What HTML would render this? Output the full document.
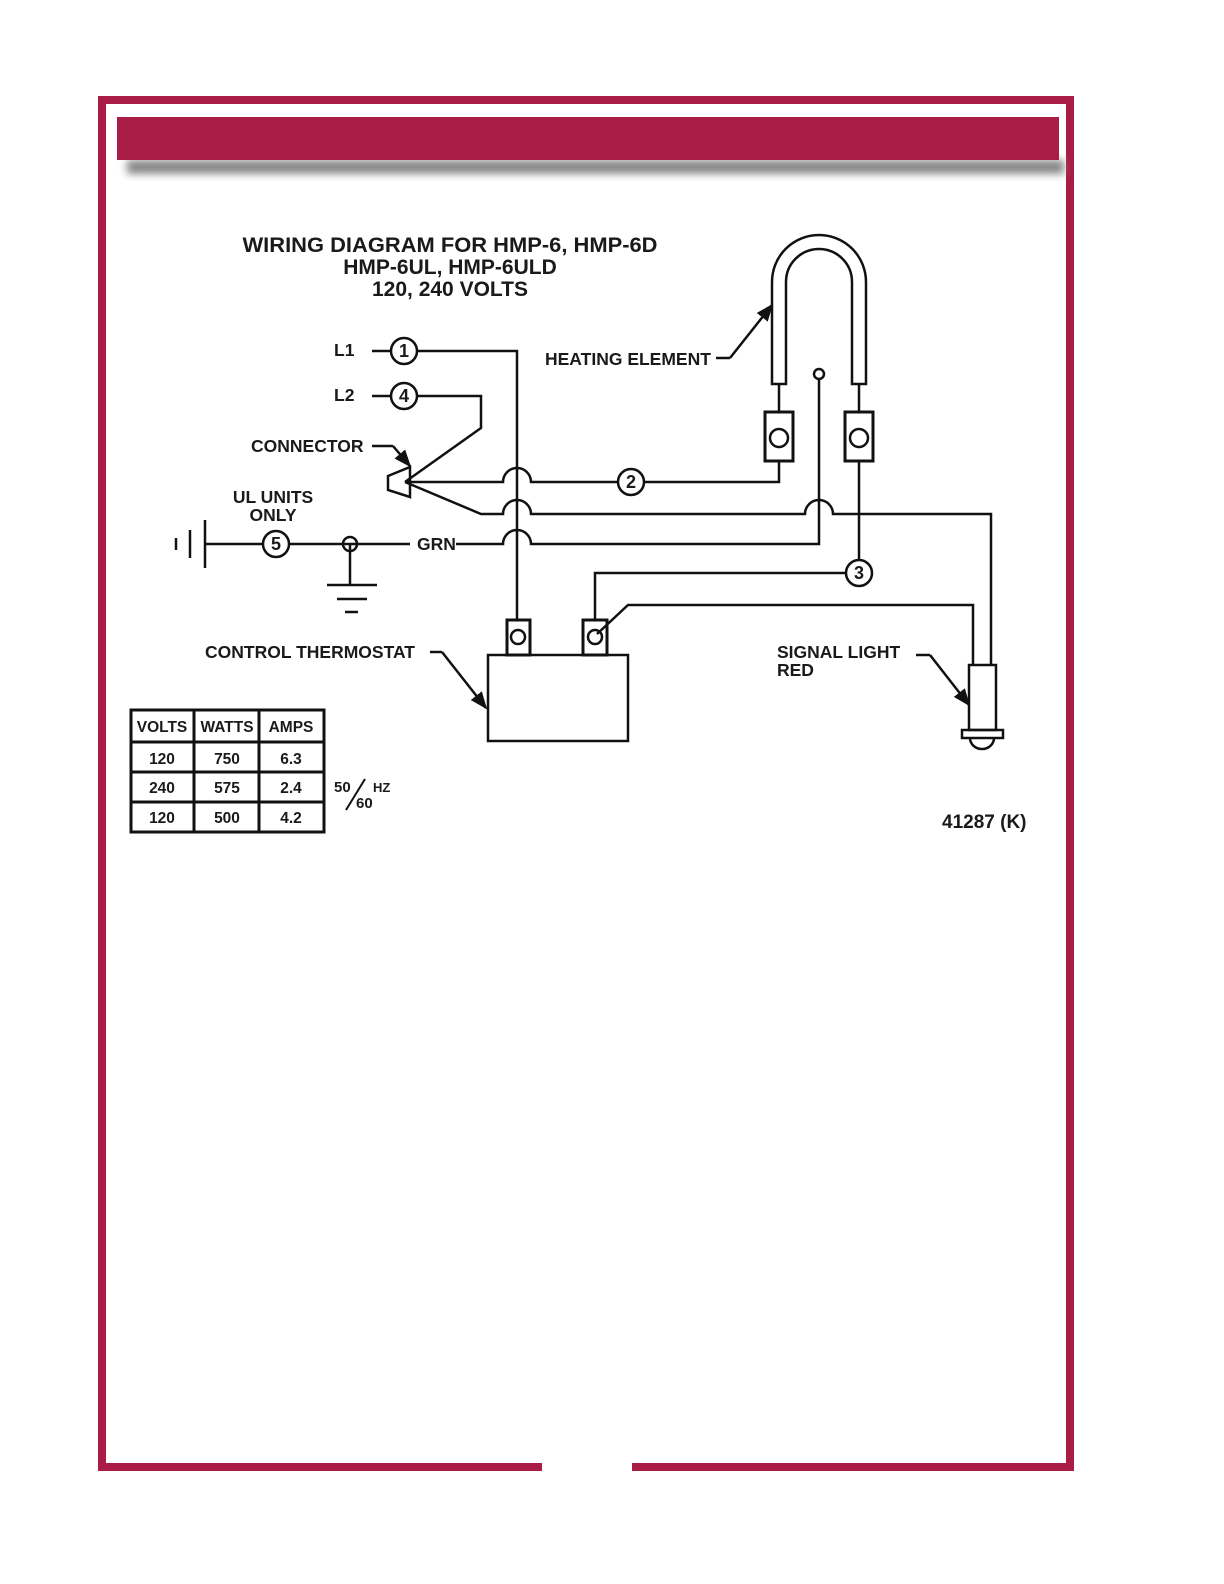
<!DOCTYPE html>
<html><head><meta charset="utf-8"><style>
html,body{margin:0;padding:0;background:#fff}
svg{display:block}
text{font-family:"Liberation Sans",sans-serif;font-weight:bold;fill:#1a1a1a}
</style></head><body>
<svg width="1224" height="1584" viewBox="0 0 1224 1584" xmlns="http://www.w3.org/2000/svg">
<defs>
<filter id="sh" x="-5%" y="-50%" width="110%" height="200%"><feGaussianBlur stdDeviation="4"/></filter>
<marker id="ah" viewBox="0 0 10 10" refX="9" refY="5" markerWidth="7" markerHeight="7" orient="auto"><path d="M0,1 L10,5 L0,9 z" fill="#111"/></marker>
</defs>
<!-- border -->
<path d="M542,1467 L102,1467 L102,100 L1070,100 L1070,1467 L632,1467" fill="none" stroke="#a81c45" stroke-width="8"/>
<rect x="127" y="160" width="937" height="14" fill="#888" filter="url(#sh)"/>
<rect x="117" y="117" width="942" height="43" fill="#a81c45"/>

<g fill="none" stroke="#111" stroke-width="2.5">
<!-- L1 -->
<line x1="372" y1="351" x2="391" y2="351"/>
<circle cx="404" cy="351" r="13"/>
<polyline points="417,351 517,351 517,620"/>
<!-- L2 -->
<line x1="372" y1="396" x2="391" y2="396"/>
<circle cx="404" cy="396" r="13"/>
<polyline points="417,396 481,396 481,428 405,482"/>
<!-- connector -->
<polygon points="388,476 410,467 410,497 388,490"/>
<line x1="372" y1="446" x2="393" y2="446"/>
<line x1="393" y1="446" x2="410" y2="466" marker-end="url(#ah)"/>
<!-- wire 2 -->
<path d="M405,482 L503,482 A14,14 0 0 1 531,482 L618,482"/>
<circle cx="631" cy="482" r="13"/>
<polyline points="644,482 779,482 779,461"/>
<!-- wire y514 -->
<path d="M405,482 L481,514 L503,514 A14,14 0 0 1 531,514 L805,514 A14,14 0 0 1 833,514 L991,514 L991,665"/>
<!-- GRN -->
<path d="M456,544 L503,544 A14,14 0 0 1 531,544 L819,544 L819,379"/>
<circle cx="819" cy="374" r="5"/>
<!-- ground -->
<line x1="176" y1="538" x2="176" y2="550"/>
<line x1="190" y1="530" x2="190" y2="558"/>
<line x1="205" y1="520" x2="205" y2="568"/>
<line x1="205" y1="544" x2="263" y2="544"/>
<circle cx="276" cy="544" r="13"/>
<line x1="289" y1="544" x2="410" y2="544"/>
<circle cx="350" cy="544" r="7"/>
<line x1="350" y1="544" x2="350" y2="585"/>
<line x1="327" y1="585" x2="377" y2="585"/>
<line x1="337" y1="599" x2="367" y2="599"/>
<line x1="345" y1="612" x2="358" y2="612"/>
<!-- heating element -->
<path d="M772,384 L772,282 A47,47 0 0 1 866,282 L866,384 L852,384 L852,282 A33,33 0 0 0 786,282 L786,384 Z"/>
<line x1="779" y1="384" x2="779" y2="412"/>
<line x1="859" y1="384" x2="859" y2="412"/>
<rect x="765" y="412" width="28" height="49" stroke-width="3"/>
<circle cx="779" cy="438" r="9"/>
<rect x="845" y="412" width="28" height="49" stroke-width="3"/>
<circle cx="859" cy="438" r="9"/>
<line x1="716" y1="358" x2="730" y2="358"/>
<line x1="730" y1="358" x2="772" y2="305" marker-end="url(#ah)"/>
<!-- wire 3 -->
<line x1="859" y1="461" x2="859" y2="560"/>
<circle cx="859" cy="573" r="13"/>
<polyline points="846,573 595,573 595,620"/>
<!-- signal wire -->
<polyline points="597,634 628,605 973,605 973,665"/>
<!-- thermostat -->
<rect x="507" y="620" width="23" height="35" stroke-width="3"/>
<circle cx="518" cy="637" r="7"/>
<rect x="583" y="620" width="24" height="35" stroke-width="3"/>
<circle cx="595" cy="637" r="7"/>
<rect x="488" y="655" width="140" height="86"/>
<line x1="430" y1="652" x2="442" y2="652"/>
<line x1="442" y1="652" x2="486" y2="708" marker-end="url(#ah)"/>
<!-- signal light -->
<rect x="969" y="665" width="27" height="65"/>
<rect x="962" y="730" width="41" height="8"/>
<path d="M970,738 A12,11 0 0 0 994,738"/>
<line x1="916" y1="655" x2="930" y2="655"/>
<line x1="930" y1="655" x2="969" y2="705" marker-end="url(#ah)"/>
<!-- table -->
<rect x="131" y="710" width="193" height="122" stroke-width="3"/>
<line x1="194" y1="710" x2="194" y2="832" stroke-width="3"/>
<line x1="259" y1="710" x2="259" y2="832" stroke-width="3"/>
<line x1="131" y1="742" x2="324" y2="742" stroke-width="3"/>
<line x1="131" y1="772" x2="324" y2="772" stroke-width="3"/>
<line x1="131" y1="802" x2="324" y2="802" stroke-width="3"/>
<line x1="346" y1="810" x2="365" y2="779" stroke-width="2"/>
</g>

<g font-size="21" text-anchor="middle">
<text x="450" y="252" textLength="415" lengthAdjust="spacingAndGlyphs">WIRING DIAGRAM FOR HMP-6, HMP-6D</text>
<text x="450" y="274">HMP-6UL, HMP-6ULD</text>
<text x="450" y="296">120, 240 VOLTS</text>
</g>
<g font-size="17.5">
<text x="334" y="356">L1</text>
<text x="334" y="401">L2</text>
<text x="251" y="452">CONNECTOR</text>
<text x="273" y="503" text-anchor="middle">UL UNITS</text>
<text x="273" y="521" text-anchor="middle">ONLY</text>
<text x="417" y="550">GRN</text>
<text x="545" y="365">HEATING ELEMENT</text>
<text x="205" y="658">CONTROL THERMOSTAT</text>
<text x="777" y="658">SIGNAL LIGHT</text>
<text x="777" y="676">RED</text>
<text x="942" y="828" font-size="19">41287 (K)</text>
</g>
<g font-size="18" text-anchor="middle">
<text x="404" y="357">1</text>
<text x="404" y="402">4</text>
<text x="631" y="488">2</text>
<text x="276" y="550">5</text>
<text x="859" y="579">3</text>
</g>
<g font-size="15.5" text-anchor="middle">
<text x="162" y="732">VOLTS</text><text x="227" y="732">WATTS</text><text x="291" y="732">AMPS</text>
<text x="162" y="764">120</text><text x="227" y="764">750</text><text x="291" y="764">6.3</text>
<text x="162" y="793">240</text><text x="227" y="793">575</text><text x="291" y="793">2.4</text>
<text x="162" y="823">120</text><text x="227" y="823">500</text><text x="291" y="823">4.2</text>
</g>
<g font-size="15">
<text x="334" y="792">50</text>
<text x="356" y="808">60</text>
<text x="373" y="792" font-size="13">HZ</text>
</g>
</svg>
</body></html>
